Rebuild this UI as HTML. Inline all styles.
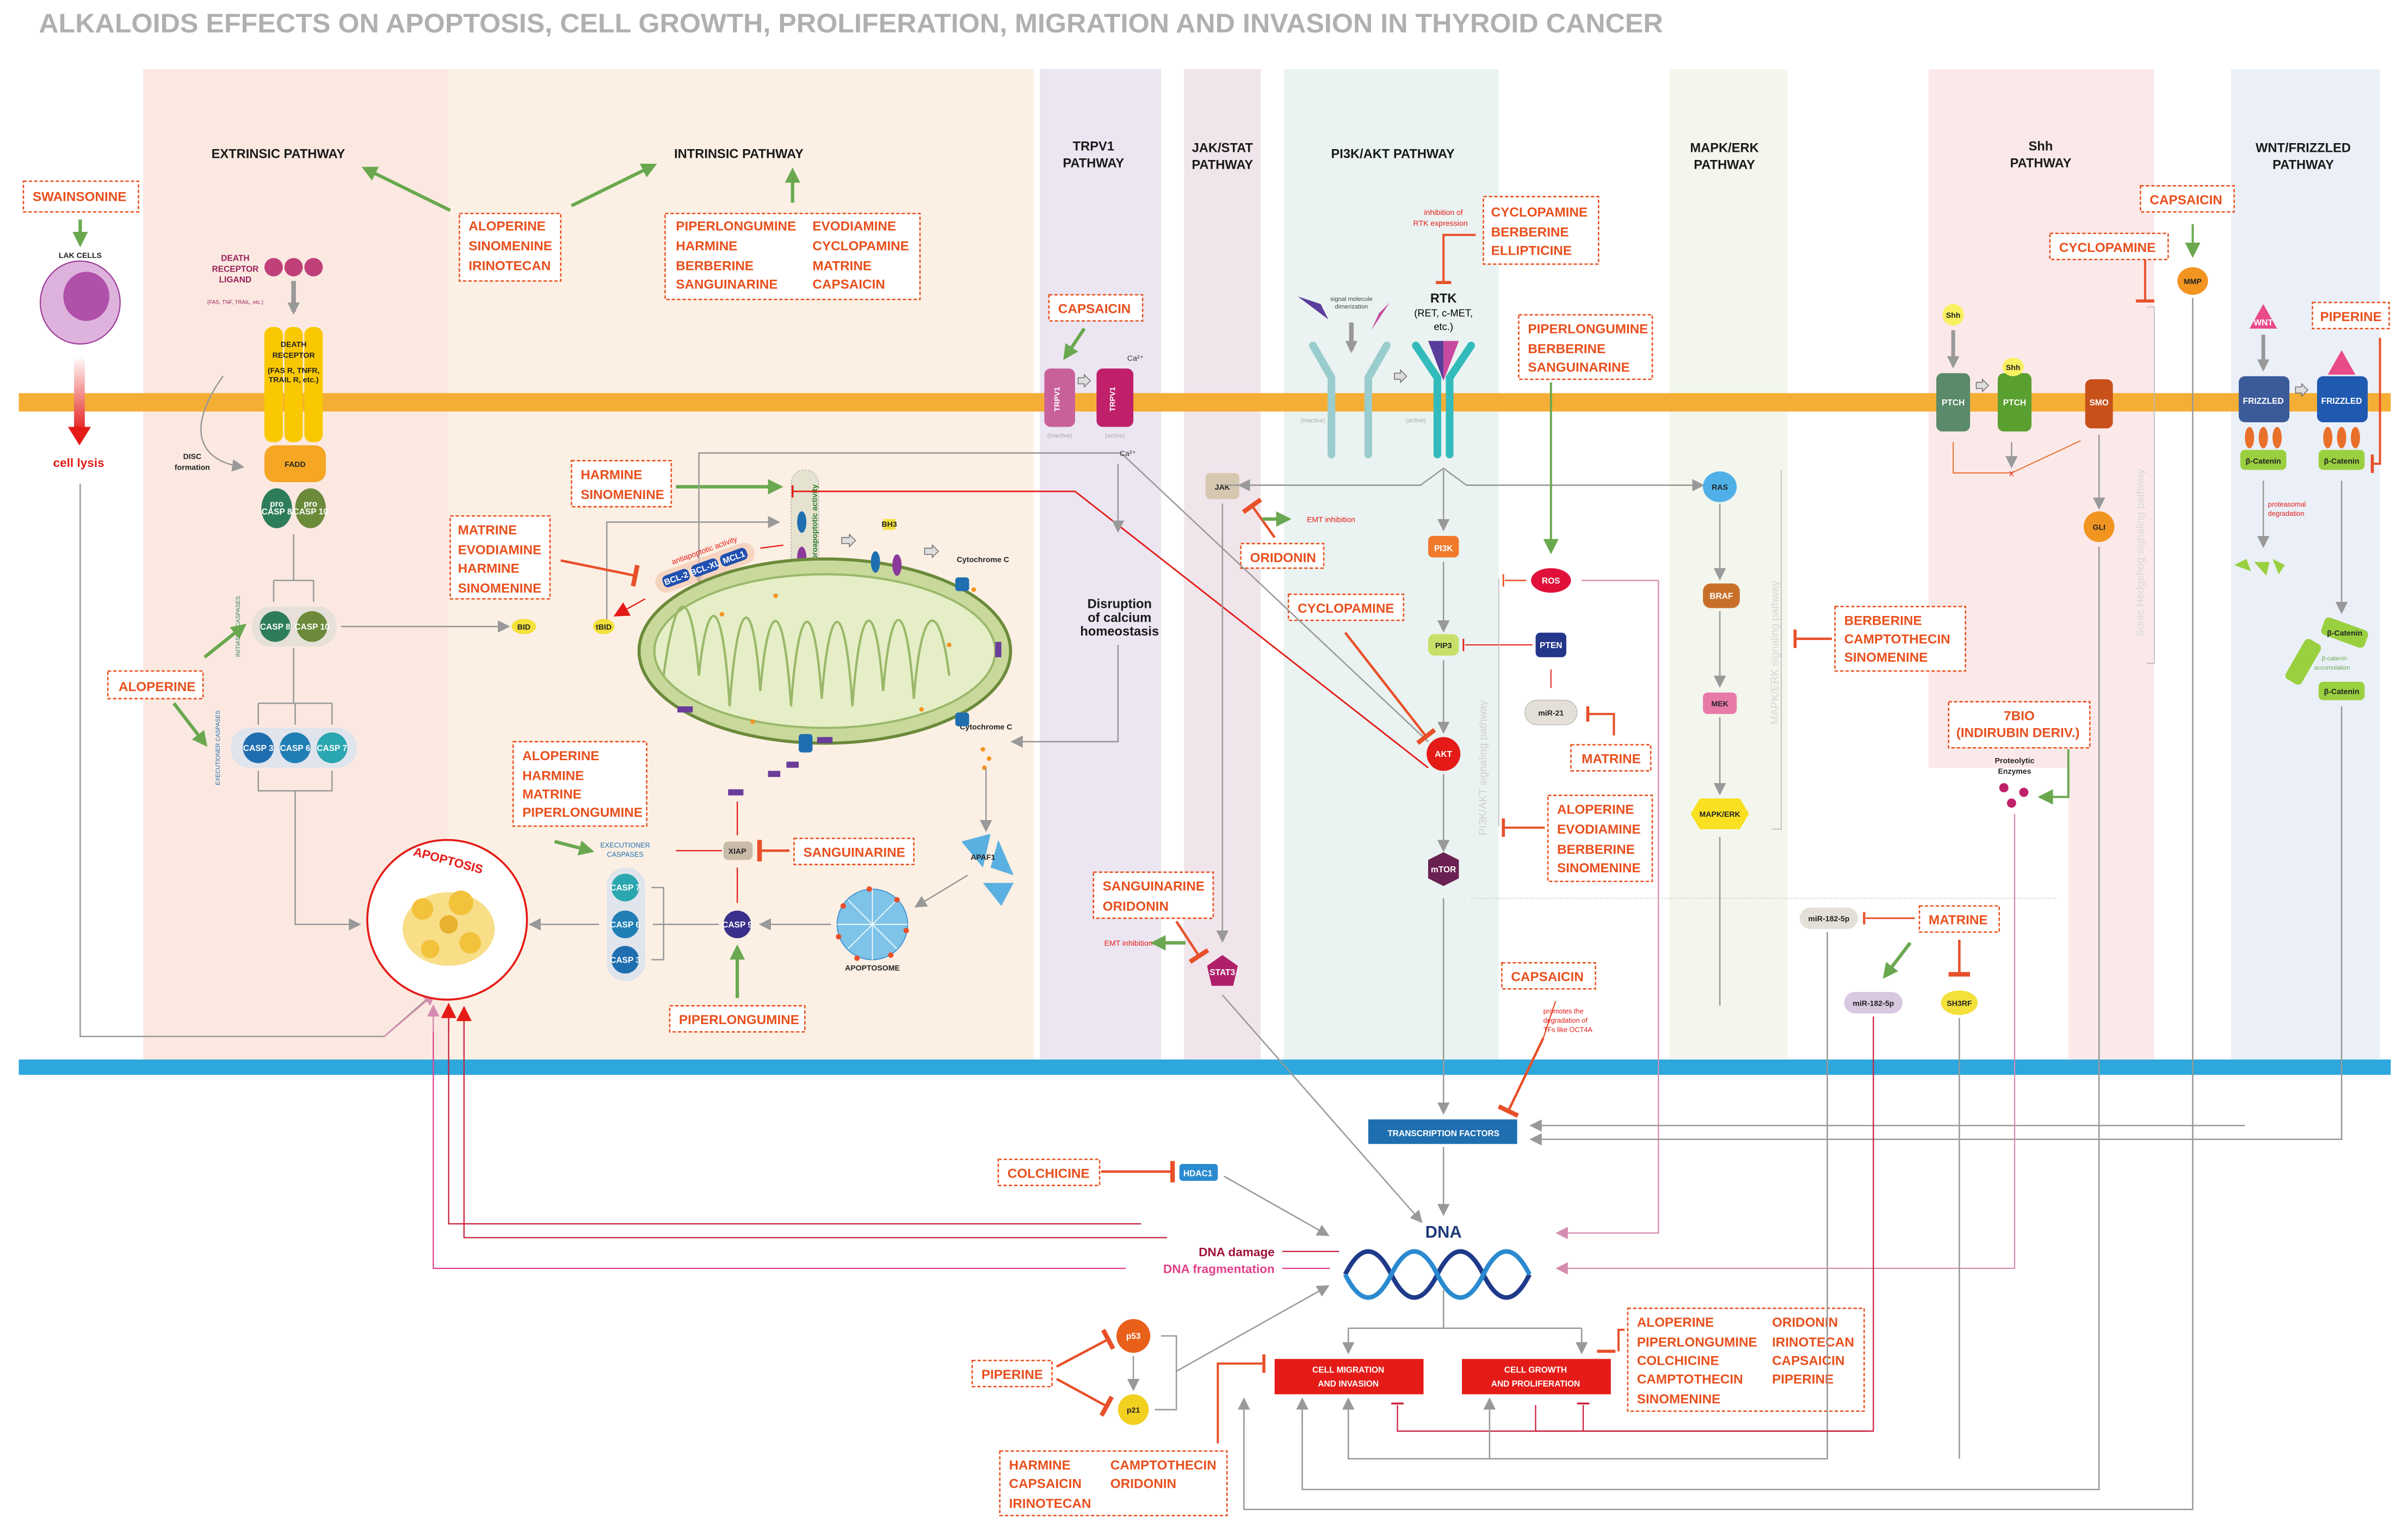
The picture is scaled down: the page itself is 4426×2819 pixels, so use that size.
<!DOCTYPE html>
<html><head><meta charset="utf-8"><style>
html,body{margin:0;padding:0;background:#fff}
svg{display:block}
text{font-family:"Liberation Sans Narrow","Liberation Sans",sans-serif}
.b{font-weight:bold;fill:#e8501e;font-size:8.6px}
.t{font-weight:bold;fill:#1a1a1a;font-size:8.4px;text-anchor:middle}
.bx{fill:#fff;stroke:#e8501e;stroke-width:0.9;stroke-dasharray:2.2,1.3}
.g{stroke:#999;stroke-width:0.9;fill:none}
.gr{stroke:#6aa84f;stroke-width:2.2;fill:none}
.rd{stroke:#e8502a;stroke-width:1.6;fill:none}
.w{fill:#fff;font-weight:bold;font-size:5.5px;text-anchor:middle}
.s{font-size:5px;fill:#222;text-anchor:middle;font-weight:bold}
</style></head><body>
<svg width="4426" height="2819" viewBox="0 0 1568 999" xmlns="http://www.w3.org/2000/svg">
<defs>
<marker id="ag" markerWidth="8" markerHeight="8" refX="6" refY="4" orient="auto" markerUnits="userSpaceOnUse"><path d="M0,0 L8,4 L0,8 z" fill="#999"/></marker>
<marker id="agr" markerWidth="10" markerHeight="10" refX="7" refY="5" orient="auto" markerUnits="userSpaceOnUse"><path d="M0,0 L10,5 L0,10 z" fill="#6aa84f"/></marker>
<marker id="ar" markerWidth="10" markerHeight="10" refX="7" refY="5" orient="auto" markerUnits="userSpaceOnUse"><path d="M0,0 L10,5 L0,10 z" fill="#e41b17"/></marker>
<marker id="ap" markerWidth="8" markerHeight="8" refX="6" refY="4" orient="auto" markerUnits="userSpaceOnUse"><path d="M0,0 L8,4 L0,8 z" fill="#d58bb0"/></marker>
<marker id="tb" markerWidth="4" markerHeight="14" refX="2" refY="7" orient="auto" markerUnits="userSpaceOnUse"><rect x="0" y="0" width="3" height="14" fill="#e8502a"/></marker>
<linearGradient id="lys" x1="0" y1="0" x2="0" y2="1"><stop offset="0" stop-color="#fff"/><stop offset="1" stop-color="#e41b17"/></linearGradient>
</defs>
<rect width="1568" height="999" fill="#fff"/>
<text x="25" y="21" font-size="17.5" font-weight="bold" fill="#b0b0b0" textLength="1058" lengthAdjust="spacingAndGlyphs">ALKALOIDS EFFECTS ON APOPTOSIS, CELL GROWTH, PROLIFERATION, MIGRATION AND INVASION IN THYROID CANCER</text>
<!-- column backgrounds -->
<rect x="93" y="45" width="199" height="645" fill="#fbe9e1"/>
<rect x="292" y="45" width="381" height="645" fill="#fcf0e4"/>
<rect x="677" y="45" width="79" height="645" fill="#ebe6f2"/>
<rect x="771" y="45" width="50" height="645" fill="#f1e5ec"/>
<rect x="836" y="45" width="140" height="645" fill="#eaf3f1"/>
<rect x="1087" y="45" width="77" height="645" fill="#f2f6ec"/>
<rect x="1256" y="45" width="147" height="455" fill="#fbe9ea"/>
<rect x="1347" y="500" width="56" height="190" fill="#fbe9ea"/>
<rect x="1453" y="45" width="97" height="645" fill="#ebf0f8"/>
<!-- membrane & bars -->
<rect x="12" y="256" width="1545" height="12" fill="#f5ae35"/>
<rect x="12" y="690" width="1545" height="10" fill="#2da7dc"/>
<!-- pathway titles -->
<text class="t" x="181" y="103">EXTRINSIC PATHWAY</text>
<text class="t" x="481" y="103">INTRINSIC PATHWAY</text>
<text class="t" x="712" y="98">TRPV1</text><text class="t" x="712" y="109">PATHWAY</text>
<text class="t" x="796" y="99">JAK/STAT</text><text class="t" x="796" y="110">PATHWAY</text>
<text class="t" x="907" y="103">PI3K/AKT PATHWAY</text>
<text class="t" x="1123" y="99">MAPK/ERK</text><text class="t" x="1123" y="110">PATHWAY</text>
<text class="t" x="1329" y="98">Shh</text><text class="t" x="1329" y="109">PATHWAY</text>
<text class="t" x="1500" y="99">WNT/FRIZZLED</text><text class="t" x="1500" y="110">PATHWAY</text>

<!-- green arrows top -->
<line class="gr" x1="293" y1="137" x2="238" y2="110" marker-end="url(#agr)"/>
<line class="gr" x1="372" y1="134" x2="425" y2="108" marker-end="url(#agr)"/>
<line class="gr" x1="516" y1="132" x2="516" y2="112" marker-end="url(#agr)"/>

<!-- drug boxes -->
<rect class="bx" x="15" y="118" width="75" height="20"/><text class="b" x="21" y="131">SWAINSONINE</text>
<rect class="bx" x="299" y="139" width="66" height="44"/><text class="b" x="305" y="150">ALOPERINE</text><text class="b" x="305" y="163">SINOMENINE</text><text class="b" x="305" y="176">IRINOTECAN</text>
<rect class="bx" x="433" y="139" width="166" height="56"/>
<text class="b" x="440" y="150">PIPERLONGUMINE</text><text class="b" x="440" y="163">HARMINE</text><text class="b" x="440" y="176">BERBERINE</text><text class="b" x="440" y="188">SANGUINARINE</text>
<text class="b" x="529" y="150">EVODIAMINE</text><text class="b" x="529" y="163">CYCLOPAMINE</text><text class="b" x="529" y="176">MATRINE</text><text class="b" x="529" y="188">CAPSAICIN</text>
<rect class="bx" x="683" y="192" width="61" height="17"/><text class="b" x="689" y="204">CAPSAICIN</text>
<rect class="bx" x="372" y="300" width="65" height="30"/><text class="b" x="378" y="312">HARMINE</text><text class="b" x="378" y="325">SINOMENINE</text>
<rect class="bx" x="293" y="336" width="65" height="54"/><text class="b" x="298" y="348">MATRINE</text><text class="b" x="298" y="361">EVODIAMINE</text><text class="b" x="298" y="373">HARMINE</text><text class="b" x="298" y="386">SINOMENINE</text>
<rect class="bx" x="70" y="437" width="62" height="18"/><text class="b" x="77" y="450">ALOPERINE</text>
<rect class="bx" x="334" y="483" width="87" height="55"/><text class="b" x="340" y="495">ALOPERINE</text><text class="b" x="340" y="508">HARMINE</text><text class="b" x="340" y="520">MATRINE</text><text class="b" x="340" y="532">PIPERLONGUMINE</text>
<rect class="bx" x="517" y="546" width="78" height="17"/><text class="b" x="523" y="558">SANGUINARINE</text>
<rect class="bx" x="436" y="655" width="88" height="17"/><text class="b" x="442" y="667">PIPERLONGUMINE</text>
<rect class="bx" x="808" y="354" width="54" height="16"/><text class="b" x="814" y="366">ORIDONIN</text>
<rect class="bx" x="839" y="387" width="75" height="17"/><text class="b" x="845" y="399">CYCLOPAMINE</text>
<rect class="bx" x="966" y="128" width="75" height="44"/><text class="b" x="971" y="141">CYCLOPAMINE</text><text class="b" x="971" y="154">BERBERINE</text><text class="b" x="971" y="166">ELLIPTICINE</text>
<rect class="bx" x="989" y="205" width="87" height="42"/><text class="b" x="995" y="217">PIPERLONGUMINE</text><text class="b" x="995" y="230">BERBERINE</text><text class="b" x="995" y="242">SANGUINARINE</text>
<rect class="bx" x="1195" y="395" width="85" height="42"/><text class="b" x="1201" y="407">BERBERINE</text><text class="b" x="1201" y="419">CAMPTOTHECIN</text><text class="b" x="1201" y="431">SINOMENINE</text>
<rect class="bx" x="1023" y="485" width="52" height="17"/><text class="b" x="1030" y="497">MATRINE</text>
<rect class="bx" x="1008" y="518" width="68" height="56"/><text class="b" x="1014" y="530">ALOPERINE</text><text class="b" x="1014" y="543">EVODIAMINE</text><text class="b" x="1014" y="556">BERBERINE</text><text class="b" x="1014" y="568">SINOMENINE</text>
<rect class="bx" x="978" y="627" width="61" height="17"/><text class="b" x="984" y="639">CAPSAICIN</text>
<rect class="bx" x="712" y="568" width="78" height="30"/><text class="b" x="718" y="580">SANGUINARINE</text><text class="b" x="718" y="593">ORIDONIN</text>
<rect class="bx" x="1394" y="121" width="61" height="17"/><text class="b" x="1400" y="133">CAPSAICIN</text>
<rect class="bx" x="1335" y="152" width="77" height="17"/><text class="b" x="1341" y="164">CYCLOPAMINE</text>
<rect class="bx" x="1506" y="197" width="50" height="17"/><text class="b" x="1511" y="209">PIPERINE</text>
<rect class="bx" x="1269" y="457" width="92" height="30"/><text class="b" x="1305" y="469">7BIO</text><text class="b" x="1274" y="480">(INDIRUBIN DERIV.)</text>
<rect class="bx" x="1250" y="590" width="52" height="17"/><text class="b" x="1256" y="602">MATRINE</text>
<rect class="bx" x="650" y="755" width="66" height="17"/><text class="b" x="656" y="767">COLCHICINE</text>
<rect class="bx" x="633" y="886" width="52" height="17"/><text class="b" x="639" y="898">PIPERINE</text>
<rect class="bx" x="651" y="945" width="148" height="42"/><text class="b" x="657" y="957">HARMINE</text><text class="b" x="657" y="969">CAPSAICIN</text><text class="b" x="657" y="982">IRINOTECAN</text><text class="b" x="723" y="957">CAMPTOTHECIN</text><text class="b" x="723" y="969">ORIDONIN</text>
<rect class="bx" x="1060" y="852" width="154" height="67"/>
<text class="b" x="1066" y="864">ALOPERINE</text><text class="b" x="1066" y="877">PIPERLONGUMINE</text><text class="b" x="1066" y="889">COLCHICINE</text><text class="b" x="1066" y="901">CAMPTOTHECIN</text><text class="b" x="1066" y="914">SINOMENINE</text>
<text class="b" x="1154" y="864">ORIDONIN</text><text class="b" x="1154" y="877">IRINOTECAN</text><text class="b" x="1154" y="889">CAPSAICIN</text><text class="b" x="1154" y="901">PIPERINE</text>

<!-- LAK cell -->
<line class="gr" x1="52" y1="143" x2="52" y2="158" marker-end="url(#agr)"/>
<text class="s" x="52" y="168" font-size="5.5">LAK CELLS</text>
<ellipse cx="52" cy="197" rx="26" ry="27" fill="#ddb3dd" stroke="#a0409a" stroke-width="0.8"/>
<ellipse cx="56" cy="193" rx="15" ry="16" fill="#b050a8"/>
<rect x="48" y="232" width="7" height="50" fill="url(#lys)"/>
<path d="M44,278 L59,278 L51.5,290 z" fill="#e41b17"/>
<text x="51" y="304" font-size="8" fill="#e41b17" text-anchor="middle" font-weight="bold">cell lysis</text>
<path class="g" d="M52,315 V675 H250 L282,647" stroke="#d8a0c8"/>
<line x1="250" y1="675" x2="282" y2="648" stroke="#d58bb0" stroke-width="0.9" marker-end="url(#ap)"/>

<!-- death receptor -->
<text x="153" y="170" font-size="5.5" fill="#9a1f5a" font-weight="bold" text-anchor="middle">DEATH</text>
<text x="153" y="177" font-size="5.5" fill="#9a1f5a" font-weight="bold" text-anchor="middle">RECEPTOR</text>
<text x="153" y="184" font-size="5.5" fill="#9a1f5a" font-weight="bold" text-anchor="middle">LIGAND</text>
<text x="153" y="198" font-size="3.5" fill="#9a1f5a" text-anchor="middle">(FAS, TNF, TRAIL, etc.)</text>
<circle cx="178" cy="174" r="6" fill="#c0407a"/><circle cx="191" cy="174" r="6" fill="#c0407a"/><circle cx="204" cy="174" r="6" fill="#c0407a"/>
<line x1="191" y1="183" x2="191" y2="203" stroke="#999" stroke-width="3" marker-end="url(#ag)"/>
<rect x="172" y="213" width="12" height="75" rx="5" fill="#f9c800"/><rect x="185" y="213" width="12" height="75" rx="5" fill="#f9c800"/><rect x="198" y="213" width="12" height="75" rx="5" fill="#f9c800"/>
<text class="s" x="191" y="226">DEATH</text><text class="s" x="191" y="233">RECEPTOR</text><text class="s" x="191" y="243" font-size="4">(FAS R, TNFR,</text><text class="s" x="191" y="249" font-size="4">TRAIL R, etc.)</text>
<rect x="172" y="290" width="40" height="24" rx="7" fill="#f5a623"/><text class="s" x="192" y="304" font-size="6">FADD</text>
<path class="g" d="M145,245 C120,280 130,300 157,304" marker-end="url(#ag)"/>
<text class="s" x="125" y="299" font-size="5.5">DISC</text><text class="s" x="125" y="306" font-size="5.5">formation</text>
<ellipse cx="180" cy="331" rx="10" ry="13" fill="#2e7d5a"/><ellipse cx="202" cy="331" rx="10" ry="13" fill="#6b8a3a"/>
<text class="w" x="180" y="330" font-size="4.5">pro</text><text class="w" x="180" y="335" font-size="4">CASP 8</text>
<text class="w" x="202" y="330" font-size="4.5">pro</text><text class="w" x="202" y="335" font-size="4">CASP 10</text>
<path class="g" d="M191,348 V378 M178,378 H204 M178,378 V392 M204,378 V392"/>
<rect x="164" y="395" width="55" height="26" rx="12" fill="#e6e0d8"/>
<circle cx="179" cy="408" r="10" fill="#2e7d5a"/><circle cx="203" cy="408" r="10" fill="#6b8a3a"/>
<text class="w" x="179" y="410" font-size="4.5">CASP 8</text><text class="w" x="203" y="410" font-size="4.5">CASP 10</text>
<text x="156" y="408" font-size="3.8" fill="#2e7d5a" transform="rotate(-90 156 408)" text-anchor="middle">INITIATOR CASPASES</text>
<line class="g" x1="222" y1="408" x2="330" y2="408" marker-end="url(#ag)"/>
<path class="g" d="M191,422 V458 M168,458 H216 M168,458 V472 M192,458 V472 M216,458 V472"/>
<rect x="150" y="474" width="82" height="26" rx="12" fill="#e0e4ec"/>
<circle cx="168" cy="487" r="10" fill="#1f6fb0"/><circle cx="192" cy="487" r="10" fill="#1f7fb5"/><circle cx="216" cy="487" r="10" fill="#2aa7b0"/>
<text class="w" x="168" y="489" font-size="4.5">CASP 3</text><text class="w" x="192" y="489" font-size="4.5">CASP 6</text><text class="w" x="216" y="489" font-size="4.5">CASP 7</text>
<text x="143" y="487" font-size="3.8" fill="#1f6fb0" transform="rotate(-90 143 487)" text-anchor="middle">EXECUTIONER CASPASES</text>
<line class="gr" x1="133" y1="428" x2="158" y2="408" marker-end="url(#agr)"/>
<line class="gr" x1="113" y1="458" x2="133" y2="484" marker-end="url(#agr)"/>
<path class="g" d="M168,502 V515 H216 V502 M192,515 V602 H233" marker-end="url(#ag)"/>

<!-- apoptosis -->
<circle cx="291" cy="599" r="52" fill="#fff" stroke="#e41b17" stroke-width="1.3"/>
<text x="291" y="563" font-size="8" font-weight="bold" fill="#e41b17" text-anchor="middle" transform="rotate(15 291 563)">APOPTOSIS</text>
<ellipse cx="292" cy="605" rx="30" ry="24" fill="#f7d66a" opacity="0.8"/>
<circle cx="275" cy="592" r="7" fill="#f2c23b"/><circle cx="300" cy="588" r="8" fill="#f2c23b"/><circle cx="306" cy="614" r="7" fill="#f2c23b"/><circle cx="280" cy="618" r="6" fill="#f2c23b"/><circle cx="292" cy="602" r="6" fill="#e8b230"/>

<!-- intrinsic: BAX column & mitochondria -->
<line class="gr" x1="440" y1="317" x2="507" y2="317" marker-end="url(#agr)"/>
<rect x="515" y="306" width="18" height="70" rx="9" fill="#e5e2d0" stroke="#aaa" stroke-width="0.5" stroke-dasharray="1,1"/>
<text x="532" y="340" font-size="5" fill="#2e7d32" transform="rotate(-90 532 340)" text-anchor="middle" font-weight="bold">proapoptotic activity</text>
<ellipse cx="522" cy="340" rx="3" ry="7" fill="#1f6fb0"/><ellipse cx="522" cy="363" rx="3" ry="7" fill="#8a3a9a"/>
<path class="g" d="M395,408 V340 H506" marker-end="url(#ag)"/>
<path class="g" d="M455,388 V295 H730 L930,483"/>
<line class="g" x1="455" y1="370" x2="455" y2="378" marker-end="url(#ag)"/>
<path d="M516,320 H700 L930,500" stroke="#e41b17" stroke-width="1" fill="none"/>
<line x1="516" y1="316" x2="516" y2="324" stroke="#e41b17" stroke-width="1.2"/>
<ellipse cx="537" cy="424" rx="121" ry="60" fill="#c8d99b" stroke="#6b8a3a" stroke-width="2"/>
<ellipse cx="537" cy="424" rx="111" ry="50" fill="#e6eec8" stroke="#9ab86a" stroke-width="1.4"/>
<path d="M432,440 C440,380 450,380 455,440 C460,390 470,380 475,460 C480,390 490,380 495,450 C500,390 510,385 515,460 C520,390 530,385 535,455 C540,390 550,385 555,460 C560,390 570,385 575,450 C580,390 590,385 595,455 C600,390 612,390 618,440" fill="none" stroke="#9ab86a" stroke-width="1.5"/>
<g transform="rotate(-20 458 370)"><rect x="425" y="363" width="68" height="14" rx="7" fill="#f4c8b0" opacity="0.7"/><text x="440" y="361" font-size="5" fill="#e41b17">antiapoptotic activity</text>
<rect x="430" y="366" width="18" height="8" rx="3" fill="#2050b0"/><rect x="450" y="366" width="18" height="8" rx="3" fill="#2050b0"/><rect x="470" y="366" width="18" height="8" rx="3" fill="#2050b0"/>
<text class="w" x="439" y="372" font-size="4">BCL-2</text><text class="w" x="459" y="372" font-size="4">BCL-XL</text><text class="w" x="479" y="372" font-size="4">MCL1</text></g>
<line class="rd" x1="365" y1="365" x2="414" y2="375" marker-end="url(#tb)"/>
<line x1="495" y1="357" x2="510" y2="355" stroke="#e41b17" stroke-width="0.8"/>
<line x1="420" y1="390" x2="402" y2="400" stroke="#e41b17" stroke-width="0.8" marker-end="url(#ar)"/>
<ellipse cx="341" cy="408" rx="8" ry="5" fill="#f4e03a"/><text class="s" x="341" y="410" font-size="4">BID</text>
<ellipse cx="393" cy="408" rx="7" ry="5" fill="#f4e03a"/><text class="s" x="393" y="410" font-size="4">tBID</text>
<rect x="575" y="338" width="8" height="7" fill="#f4e03a"/><text class="s" x="579" y="343" font-size="2.5">BH3</text>
<ellipse cx="570" cy="366" rx="3" ry="7" fill="#1f6fb0"/><ellipse cx="584" cy="368" rx="3" ry="7" fill="#8a3a9a"/>
<path d="M548,350 h5 v-2 l4,4 l-4,4 v-2 h-5z M602,357 h5 v-2 l4,4 l-4,4 v-2 h-5z" fill="#ddd" stroke="#666" stroke-width="0.5"/>
<text class="s" x="640" y="366" font-size="4">Cytochrome C</text>
<text class="s" x="642" y="475" font-size="4">Cytochrome C</text>
<g fill="#f29520"><circle cx="628" cy="380" r="1.5"/><circle cx="634" cy="384" r="1.5"/><circle cx="640" cy="488" r="1.5"/><circle cx="644" cy="494" r="1.5"/><circle cx="641" cy="500" r="1.5"/><circle cx="470" cy="400" r="1.5"/><circle cx="490" cy="470" r="1.5"/><circle cx="600" cy="462" r="1.5"/><circle cx="618" cy="420" r="1.5"/><circle cx="505" cy="388" r="1.5"/></g>
<rect x="622" y="376" width="9" height="9" rx="2" fill="#1f6fb0"/><rect x="622" y="464" width="9" height="9" rx="2" fill="#1f6fb0"/><rect x="520" y="478" width="9" height="12" rx="2" fill="#1f6fb0"/>
<g fill="#6a3d9a"><rect x="532" y="480" width="10" height="4"/><rect x="441" y="460" width="10" height="4"/><rect x="474" y="514" width="10" height="4"/><rect x="500" y="502" width="8" height="4"/><rect x="512" y="496" width="8" height="4"/><rect x="648" y="418" width="4" height="10"/></g>
<path class="g" d="M642,500 V540" marker-end="url(#ag)"/>
<path d="M626,548 L645,543 L640,565z M650,547 L660,570 L645,565z M640,575 L660,575 L652,590z" fill="#5ab0e0"/>
<text class="s" x="640" y="560" font-size="3.5">APAF1</text>
<line class="g" x1="630" y1="570" x2="597" y2="590" marker-end="url(#ag)"/>
<circle cx="568" cy="602" r="23" fill="#7ec3e8" stroke="#3a8fcf" stroke-width="0.6"/>
<g stroke="#fff" stroke-width="0.6"><line x1="545" y1="602" x2="591" y2="602"/><line x1="568" y1="579" x2="568" y2="625"/><line x1="552" y1="586" x2="584" y2="618"/><line x1="552" y1="618" x2="584" y2="586"/></g>
<g fill="#e8502a"><circle cx="549" cy="590" r="1.8"/><circle cx="566" cy="579" r="1.8"/><circle cx="584" cy="586" r="1.8"/><circle cx="590" cy="606" r="1.8"/><circle cx="580" cy="622" r="1.8"/><circle cx="558" cy="624" r="1.8"/><circle cx="546" cy="610" r="1.8"/></g>
<text class="s" x="568" y="632" font-size="4.5">APOPTOSOME</text>
<line class="g" x1="541" y1="602" x2="496" y2="602" marker-end="url(#ag)"/>
<circle cx="480" cy="602" r="9" fill="#3a2f8a"/><text class="w" x="480" y="604" font-size="4.5">CASP 9</text>
<line class="gr" x1="480" y1="650" x2="480" y2="618" marker-end="url(#agr)"/>
<rect x="471" y="548" width="19" height="12" rx="3" fill="#c8bca8"/><text class="s" x="480" y="556" font-size="4.5">XIAP</text>
<line x1="480" y1="522" x2="480" y2="544" stroke="#e41b17" stroke-width="0.8"/>
<line x1="480" y1="565" x2="480" y2="588" stroke="#e41b17" stroke-width="0.8"/>
<line class="rd" x1="514" y1="554" x2="494" y2="554" marker-end="url(#tb)"/>
<line x1="470" y1="554" x2="440" y2="554" stroke="#e41b17" stroke-width="0.8"/>
<line class="gr" x1="361" y1="548" x2="384" y2="554" marker-end="url(#agr)"/>
<text x="407" y="552" font-size="4.5" fill="#1f6fb0" text-anchor="middle">EXECUTIONER</text><text x="407" y="558" font-size="4.5" fill="#1f6fb0" text-anchor="middle">CASPASES</text>
<rect x="395" y="565" width="25" height="74" rx="12" fill="#e0e4ec"/>
<circle cx="407" cy="578" r="9" fill="#2aa7b0"/><circle cx="407" cy="602" r="9" fill="#1f7fb5"/><circle cx="407" cy="625" r="9" fill="#1f6fb0"/>
<text class="w" x="407" y="580" font-size="4.5">CASP 7</text><text class="w" x="407" y="604" font-size="4.5">CASP 6</text><text class="w" x="407" y="627" font-size="4.5">CASP 3</text>
<path class="g" d="M468,602 H425 M432,578 V625 M432,578 H424 M432,625 H424 M390,602 H346" marker-end="url(#ag)"/>

<!-- TRPV1 -->
<line class="gr" x1="706" y1="214" x2="694" y2="232" marker-end="url(#agr)"/>
<rect x="680" y="240" width="20" height="38" rx="4" fill="#c8609a"/><text x="690" y="260" font-size="5" fill="#fff" font-weight="bold" transform="rotate(-90 690 260)" text-anchor="middle">TRPV1</text>
<rect x="714" y="240" width="24" height="38" rx="4" fill="#c0206a"/><text x="726" y="260" font-size="5" fill="#fff" font-weight="bold" transform="rotate(-90 726 260)" text-anchor="middle">TRPV1</text>
<path d="M702,246 h4 v-2 l4,4 l-4,4 v-2 h-4z" fill="#ddd" stroke="#666" stroke-width="0.5"/>
<text x="690" y="285" font-size="4" fill="#aaa" text-anchor="middle">(inactive)</text><text x="726" y="285" font-size="4" fill="#aaa" text-anchor="middle">(active)</text>
<text x="734" y="235" font-size="5" fill="#333">Ca²⁺</text><text x="729" y="297" font-size="5" fill="#333">Ca²⁺</text>
<path class="g" d="M728,302 V345" marker-end="url(#ag)"/>
<text class="t" x="729" y="396" font-size="7" font-weight="normal" style="font-weight:bold">Disruption</text><text class="t" x="729" y="405" font-size="7">of calcium</text><text class="t" x="729" y="414" font-size="7">homeostasis</text>
<path class="g" d="M728,420 V483 H660" marker-end="url(#ag)"/>

<!-- JAK/STAT -->
<rect x="785" y="308" width="22" height="17" rx="3" fill="#d6c8b0"/><text class="s" x="796" y="319" font-size="5.5">JAK</text>
<line class="g" x1="796" y1="328" x2="796" y2="612" marker-end="url(#ag)"/>
<line class="rd" x1="830" y1="350" x2="815" y2="329" marker-end="url(#tb)"/>
<line class="gr" x1="822" y1="338" x2="838" y2="338" stroke-width="1.5" marker-end="url(#agr)"/>
<text x="851" y="340" font-size="5" fill="#e41b17">EMT inhibition</text>
<path d="M796,622 L806,629 L803,642 L789,642 L786,629z" fill="#b0206a"/><text class="w" x="796" y="635">STAT3</text>
<line class="rd" x1="766" y1="600" x2="781" y2="623" marker-end="url(#tb)"/>
<line class="gr" x1="772" y1="614" x2="752" y2="614" stroke-width="1.5" marker-end="url(#agr)"/>
<text x="719" y="616" font-size="5" fill="#e41b17">EMT inhibition</text>
<line class="g" x1="796" y1="648" x2="925" y2="795" marker-end="url(#ag)"/>

<!-- PI3K/AKT -->
<text x="940" y="140" font-size="5" fill="#e41b17" text-anchor="middle">inhibition of</text><text x="938" y="147" font-size="5" fill="#e41b17" text-anchor="middle">RTK expression</text>
<path d="M961,153 H940 V183" stroke="#e8502a" stroke-width="1.4" fill="none"/><line x1="935" y1="184" x2="945" y2="184" stroke="#e8502a" stroke-width="2"/>
<text class="t" x="940" y="197" font-size="7">RTK</text><text x="940" y="206" font-size="6.5" text-anchor="middle">(RET, c-MET,</text><text x="940" y="215" font-size="6.5" text-anchor="middle">etc.)</text>
<path d="M845,193 L860,198 L865,208 z" fill="#5a3d9a"/><path d="M905,197 L893,215 L898,204z" fill="#c84aa0"/>
<text x="880" y="196" font-size="4" fill="#444" text-anchor="middle">signal molecule</text><text x="880" y="201" font-size="4" fill="#444" text-anchor="middle">dimerization</text>
<line x1="880" y1="210" x2="880" y2="228" stroke="#999" stroke-width="3" marker-end="url(#ag)"/>
<path d="M855,225 L867,246 V296 M903,225 L891,246 V296" stroke="#9cc" stroke-width="5" fill="none" stroke-linecap="round"/>
<path d="M922,225 L936,246 V296 M958,225 L944,246 V296" stroke="#3bb" stroke-width="5" fill="none" stroke-linecap="round"/>
<path d="M930,222 L940,222 L940,248z" fill="#5a3d9a"/><path d="M940,222 L950,222 L940,248z" fill="#c84aa0"/>
<path d="M908,243 h4 v-2 l4,4 l-4,4 v-2 h-4z" fill="#ddd" stroke="#666" stroke-width="0.5"/>
<text x="855" y="275" font-size="4" fill="#aaa" text-anchor="middle">(inactive)</text><text x="922" y="275" font-size="4" fill="#aaa" text-anchor="middle">(active)</text>
<path class="g" d="M796,316 H925 L940,305 L955,316 H1108" />
<line class="g" x1="925" y1="316" x2="808" y2="316" marker-end="url(#ag)"/><line class="g" x1="1090" y1="316" x2="1108" y2="316" marker-end="url(#ag)"/>
<line class="g" x1="940" y1="306" x2="940" y2="344" marker-end="url(#ag)"/>
<rect x="930" y="349" width="20" height="14" rx="3" fill="#f07a2a"/><text class="w" x="940" y="359">PI3K</text>
<line class="g" x1="940" y1="366" x2="940" y2="410" marker-end="url(#ag)"/>
<rect x="930" y="413" width="20" height="14" rx="4" fill="#c8e06a"/><text class="s" x="940" y="422" font-size="5.5">PIP3</text>
<line class="g" x1="940" y1="430" x2="940" y2="476" marker-end="url(#ag)"/>
<circle cx="940" cy="491" r="11" fill="#e41b17"/><text class="w" x="940" y="493">AKT</text>
<line class="g" x1="940" y1="504" x2="940" y2="553" marker-end="url(#ag)"/>
<path d="M940,555 L950,560 V572 L940,577 L930,572 V560z" fill="#6a2050"/><text class="w" x="940" y="568">mTOR</text>
<line class="g" x1="940" y1="585" x2="940" y2="724" marker-end="url(#ag)"/>
<line class="rd" x1="876" y1="412" x2="929" y2="480" marker-end="url(#tb)"/>
<line x1="1010" y1="249" x2="1010" y2="358" stroke="#6aa84f" stroke-width="1.4" marker-end="url(#agr)"/>
<ellipse cx="1010" cy="378" rx="13" ry="8" fill="#e0103a"/><text class="w" x="1010" y="380">ROS</text>
<line x1="1030" y1="378" x2="1080" y2="378" stroke="#d58bb0" stroke-width="0.8"/>
<path d="M1080,378 V803 H1015" stroke="#d58bb0" stroke-width="0.8" fill="none" marker-end="url(#ap)"/>
<line x1="994" y1="378" x2="980" y2="378" stroke="#e8502a" stroke-width="0.9"/><line x1="979" y1="374" x2="979" y2="382" stroke="#e8502a" stroke-width="1"/>
<rect x="1000" y="412" width="20" height="16" rx="3" fill="#23368a"/><text class="w" x="1010" y="422">PTEN</text>
<line x1="998" y1="420" x2="954" y2="420" stroke="#e41b17" stroke-width="0.7"/><line x1="953" y1="416" x2="953" y2="424" stroke="#e41b17" stroke-width="1"/>
<line x1="1010" y1="436" x2="1010" y2="448" stroke="#e41b17" stroke-width="0.7"/>
<rect x="993" y="456" width="34" height="16" rx="8" fill="#e4e0d8" stroke="#bbb" stroke-width="0.5"/><text class="s" x="1010" y="466" font-size="5.5">miR-21</text>
<path d="M1051,479 V465 H1034" stroke="#e8502a" stroke-width="1.4" fill="none"/><line x1="1034" y1="460" x2="1034" y2="470" stroke="#e8502a" stroke-width="2"/>
<path d="M1006,539 H980" stroke="#e8502a" stroke-width="1.4"/><line x1="979" y1="533" x2="979" y2="545" stroke="#e8502a" stroke-width="2"/>
<path d="M976,377 V538" stroke="#bbb" stroke-width="0.6" fill="none"/>
<text x="968" y="500" font-size="7" fill="#d0d0d0" transform="rotate(-90 968 500)" text-anchor="middle">PI3K/AKT signaling pathway</text>
<path d="M958,585 H1340" stroke="#ccc" stroke-width="0.6" stroke-dasharray="1,1"/>
<path d="M1013,652 L1005,676" stroke="#e8502a" stroke-width="0.8"/>
<text x="1005" y="660" font-size="4.5" fill="#e41b17">promotes the</text><text x="1005" y="666" font-size="4.5" fill="#e41b17">degradation of</text><text x="1005" y="672" font-size="4.5" fill="#e41b17">TFs like OCT4A</text>
<line class="rd" x1="1005" y1="676" x2="982" y2="724" marker-end="url(#tb)"/>

<!-- MAPK -->
<ellipse cx="1120" cy="317" rx="11" ry="10" fill="#4fb0e8"/><text class="s" x="1120" y="319" font-size="5">RAS</text>
<line class="g" x1="1120" y1="328" x2="1120" y2="376" marker-end="url(#ag)"/>
<rect x="1109" y="380" width="24" height="16" rx="5" fill="#c8702a"/><text class="w" x="1121" y="390">BRAF</text>
<line class="g" x1="1120" y1="398" x2="1120" y2="446" marker-end="url(#ag)"/>
<rect x="1109" y="451" width="22" height="14" rx="3" fill="#e87aa8"/><text class="s" x="1120" y="460" font-size="5">MEK</text>
<line class="g" x1="1120" y1="467" x2="1120" y2="516" marker-end="url(#ag)"/>
<path d="M1107,520 H1133 L1139,530 L1133,540 H1107 L1101,530z" fill="#f9e020"/><text class="s" x="1120" y="532" font-size="5">MAPK/ERK</text>
<path class="g" d="M1120,545 V655" stroke="#999"/>
<path d="M1160,306 V540 H1154" stroke="#bbb" stroke-width="0.6" fill="none"/>
<text x="1158" y="425" font-size="7" fill="#d8d8d8" transform="rotate(-90 1158 425)" text-anchor="middle">MAPK/ERK signaling pathway</text>
<line class="rd" x1="1193" y1="416" x2="1170" y2="416"/><line x1="1169" y1="410" x2="1169" y2="422" stroke="#e8502a" stroke-width="2"/>

<!-- Shh -->
<ellipse cx="1272" cy="205" rx="7" ry="7" fill="#f9f060"/><text class="s" x="1272" y="207" font-size="4.5">Shh</text>
<line x1="1272" y1="215" x2="1272" y2="238" stroke="#999" stroke-width="2.5" marker-end="url(#ag)"/>
<rect x="1261" y="243" width="22" height="38" rx="4" fill="#5a8a6a"/><text class="w" x="1272" y="264">PTCH</text>
<rect x="1301" y="243" width="22" height="38" rx="4" fill="#5aa030"/><text class="w" x="1312" y="264">PTCH</text>
<ellipse cx="1311" cy="239" rx="7" ry="6" fill="#f9f060"/><text class="s" x="1311" y="241" font-size="4.5">Shh</text>
<path d="M1287,249 h4 v-2 l4,4 l-4,4 v-2 h-4z" fill="#ddd" stroke="#666" stroke-width="0.5"/>
<rect x="1358" y="247" width="18" height="32" rx="4" fill="#c8501a"/><text class="w" x="1367" y="264">SMO</text>
<path d="M1272,288 V308 H1310 L1355,287" stroke="#e8702a" stroke-width="0.7" fill="none"/>
<text x="1310" y="310" font-size="6" fill="#e41b17" text-anchor="middle">x</text>
<line class="g" x1="1310" y1="288" x2="1310" y2="303" marker-end="url(#ag)"/>
<line class="g" x1="1367" y1="283" x2="1367" y2="330" marker-end="url(#ag)"/>
<circle cx="1367" cy="343" r="10" fill="#f29520"/><text class="s" x="1367" y="345" font-size="5">GLI</text>
<path class="g" d="M1367,356 V970 H848 V915"/>
<line class="g" x1="848" y1="925" x2="848" y2="912" marker-end="url(#ag)"/>
<path d="M1397,169 V195" stroke="#e8502a" stroke-width="1.4"/><line x1="1391" y1="196" x2="1403" y2="196" stroke="#e8502a" stroke-width="2"/>
<path d="M1398,200 H1403 V432 H1398" stroke="#bbb" stroke-width="0.6" fill="none"/>
<text x="1396" y="360" font-size="7" fill="#d8d8d8" transform="rotate(-90 1396 360)" text-anchor="middle">Sonic Hedgehog signaling pathway</text>
<line x1="1428" y1="146" x2="1428" y2="165" stroke="#6aa84f" stroke-width="1.4" marker-end="url(#agr)"/>
<ellipse cx="1428" cy="183" rx="10" ry="9" fill="#f29520"/><text class="s" x="1428" y="185" font-size="5">MMP</text>
<path class="g" d="M1428,194 V983 H810 V915"/>
<line class="g" x1="810" y1="925" x2="810" y2="912" marker-end="url(#ag)"/>
<!-- WNT -->
<path d="M1474,198 L1483,214 L1465,214z" fill="#e84a8a"/><text class="w" x="1474" y="212" font-size="4.5">WNT</text>
<line x1="1474" y1="218" x2="1474" y2="240" stroke="#999" stroke-width="2.5" marker-end="url(#ag)"/>
<rect x="1458" y="245" width="33" height="30" rx="4" fill="#3a5a9a"/><text class="w" x="1474" y="263">FRIZZLED</text>
<rect x="1509" y="245" width="33" height="30" rx="4" fill="#1f5ab0"/><text class="w" x="1525" y="263">FRIZZLED</text>
<path d="M1525,228 L1534,244 L1516,244z" fill="#e84a8a"/>
<path d="M1495,252 h4 v-2 l4,4 l-4,4 v-2 h-4z" fill="#ddd" stroke="#666" stroke-width="0.5"/>
<g fill="#e8702a"><ellipse cx="1465" cy="285" rx="3" ry="7"/><ellipse cx="1474" cy="285" rx="3" ry="7"/><ellipse cx="1483" cy="285" rx="3" ry="7"/><ellipse cx="1516" cy="285" rx="3" ry="7"/><ellipse cx="1525" cy="285" rx="3" ry="7"/><ellipse cx="1534" cy="285" rx="3" ry="7"/></g>
<rect x="1459" y="293" width="30" height="13" rx="3" fill="#9ad040"/><text class="s" x="1474" y="302" font-size="5">β-Catenin</text>
<rect x="1510" y="293" width="30" height="13" rx="3" fill="#9ad040"/><text class="s" x="1525" y="302" font-size="5">β-Catenin</text>
<path d="M1550,220 V302 H1546" stroke="#e8502a" stroke-width="1.4" fill="none"/><line x1="1545" y1="296" x2="1545" y2="308" stroke="#e8502a" stroke-width="2"/>
<line class="g" x1="1474" y1="313" x2="1474" y2="355" marker-end="url(#ag)"/>
<text x="1477" y="330" font-size="4.5" fill="#e41b17">proteasomal</text><text x="1477" y="336" font-size="4.5" fill="#e41b17">degradation</text>
<path d="M1455,368 l8,-4 l3,8 z M1468,366 l10,0 l-2,9 z M1480,364 l8,4 l-4,6z" fill="#9ad040"/>
<line class="g" x1="1525" y1="313" x2="1525" y2="398" marker-end="url(#ag)"/>
<g fill="#9ad040"><rect x="1512" y="406" width="30" height="12" rx="3" transform="rotate(20 1527 412)"/><rect x="1485" y="425" width="30" height="12" rx="3" transform="rotate(-60 1500 431)"/><rect x="1510" y="444" width="30" height="12" rx="3"/></g>
<text class="s" x="1527" y="414" font-size="4.5">β-Catenin</text><text class="s" x="1525" y="452" font-size="4.5">β-Catenin</text>
<text x="1512" y="430" font-size="4" fill="#6aa84f">β-catenin</text><text x="1507" y="436" font-size="4" fill="#6aa84f">accumulation</text>
<path class="g" d="M1525,460 V742 H998" marker-end="url(#ag)"/>
<path class="g" d="M1462,733 H998" marker-end="url(#ag)"/>
<!-- Proteolytic -->
<text class="s" x="1312" y="497" font-size="5.5">Proteolytic</text><text class="s" x="1312" y="504" font-size="5.5">Enzymes</text>
<g fill="#c0206a"><circle cx="1305" cy="513" r="3"/><circle cx="1318" cy="516" r="3"/><circle cx="1310" cy="523" r="3"/></g>
<path d="M1347,488 V519 H1330" stroke="#6aa84f" stroke-width="1.4" fill="none" marker-end="url(#agr)"/>
<path d="M1312,530 V826 H1015" stroke="#d58bb0" stroke-width="0.8" fill="none" marker-end="url(#ap)"/>
<rect x="1172" y="591" width="38" height="14" rx="7" fill="#e4e0d8"/><text class="s" x="1191" y="600" font-size="5.5">miR-182-5p</text>
<line x1="1247" y1="598" x2="1215" y2="598" stroke="#e8502a" stroke-width="1"/><line x1="1214" y1="594" x2="1214" y2="602" stroke="#e8502a" stroke-width="1.5"/>
<line class="gr" x1="1244" y1="614" x2="1228" y2="635" marker-end="url(#agr)"/>
<line class="rd" x1="1276" y1="612" x2="1276" y2="635" marker-end="url(#tb)"/>
<rect x="1201" y="646" width="38" height="14" rx="7" fill="#d8c8e0"/><text class="s" x="1220" y="655" font-size="5.5">miR-182-5p</text>
<ellipse cx="1276" cy="653" rx="12" ry="8" fill="#f4e03a"/><text class="s" x="1276" y="655" font-size="5">SH3RF</text>
<path class="g" d="M1190,607 V950 H878 V915"/><line class="g" x1="878" y1="925" x2="878" y2="912" marker-end="url(#ag)"/>
<path d="M1220,662 V932 H1000 V915" stroke="#c8203a" stroke-width="0.8" fill="none"/>
<path class="g" d="M1276,663 V950"/>
<path d="M1216,932 H910 V915" stroke="#c8203a" stroke-width="0.8" fill="none"/><line x1="906" y1="914" x2="914" y2="914" stroke="#c8203a" stroke-width="1.2"/>
<line x1="1027" y1="914" x2="1035" y2="914" stroke="#c8203a" stroke-width="1.2"/><path d="M1031,932 V915" stroke="#c8203a" stroke-width="0.8"/>
<path class="g" d="M970,950 V912" marker-end="url(#ag)"/>

<!-- nucleus area -->
<rect x="891" y="729" width="97" height="16" fill="#1f6fb0"/><text class="w" x="940" y="740" font-size="5.5">TRANSCRIPTION FACTORS</text>
<line class="g" x1="940" y1="747" x2="940" y2="790" marker-end="url(#ag)"/>
<rect x="768" y="758" width="25" height="11" rx="2" fill="#2a8ad0"/><text class="w" x="780" y="766" font-size="5">HDAC1</text>
<line class="rd" x1="717" y1="763" x2="764" y2="763" marker-end="url(#tb)"/>
<line class="g" x1="797" y1="766" x2="864" y2="804" marker-end="url(#ag)"/>
<text x="940" y="806" font-size="11" font-weight="bold" fill="#1f3a7a" text-anchor="middle">DNA</text>
<path d="M876,830 C886,810 896,810 906,830 S926,850 936,830 S956,810 966,830 S986,850 996,830" stroke="#1f3a8a" stroke-width="3" fill="none"/>
<path d="M876,830 C886,850 896,850 906,830 S926,810 936,830 S956,850 966,830 S986,810 996,830" stroke="#2a8ad0" stroke-width="3" fill="none"/>
<text x="830" y="818" font-size="8" font-weight="bold" fill="#a0103a" text-anchor="end">DNA damage</text>
<text x="830" y="829" font-size="8" font-weight="bold" fill="#e0408a" text-anchor="end">DNA fragmentation</text>
<path d="M835,815 H866 M743,797 H292 V656" stroke="#c8203a" stroke-width="0.8" fill="none"/>
<line x1="292" y1="672" x2="292" y2="656" stroke="#c8203a" stroke-width="0.8" marker-end="url(#ar)"/>
<path d="M835,826 H866 M733,826 H282 V656" stroke="#e0408a" stroke-width="0.8" fill="none"/>
<line x1="282" y1="672" x2="282" y2="656" stroke="#d58bb0" stroke-width="0.8" marker-end="url(#ap)"/>
<line x1="866" y1="815" x2="872" y2="815" stroke="#c8203a" stroke-width="0.8"/>
<path d="M760,806 H302 V658" stroke="#c8203a" stroke-width="0.8" fill="none" marker-end="url(#ar)"/>
<path class="g" d="M940,840 V865 M878,865 H1030 M878,865 V878 M1030,865 V878" />
<line class="g" x1="878" y1="870" x2="878" y2="880" marker-end="url(#ag)"/><line class="g" x1="1030" y1="870" x2="1030" y2="880" marker-end="url(#ag)"/>
<rect x="830" y="885" width="97" height="23" fill="#e41b17"/><text class="w" x="878" y="894" font-size="6">CELL MIGRATION</text><text class="w" x="878" y="903" font-size="6">AND INVASION</text>
<rect x="952" y="885" width="97" height="23" fill="#e41b17"/><text class="w" x="1000" y="894" font-size="6">CELL GROWTH</text><text class="w" x="1000" y="903" font-size="6">AND PROLIFERATION</text>
<path d="M1054,880 V866 H1058" stroke="#e8502a" stroke-width="1.4" fill="none"/><line x1="1053" y1="880" x2="1053" y2="880"/><line x1="1040" y1="880" x2="1052" y2="880" stroke="#e8502a" stroke-width="2"/>
<path d="M793,940 V888 H822" stroke="#e8502a" stroke-width="1.4" fill="none"/><line x1="823" y1="882" x2="823" y2="894" stroke="#e8502a" stroke-width="2"/>
<circle cx="738" cy="870" r="11" fill="#e8601a"/><text class="w" x="738" y="872">p53</text>
<circle cx="738" cy="918" r="10" fill="#f2d020"/><text class="s" x="738" y="920" font-size="5.5">p21</text>
<line class="g" x1="738" y1="883" x2="738" y2="904" marker-end="url(#ag)"/>
<line class="rd" x1="688" y1="890" x2="722" y2="872" marker-end="url(#tb)"/>
<line class="rd" x1="688" y1="898" x2="721" y2="916" marker-end="url(#tb)"/>
<path class="g" d="M756,870 H766 V918 H752"/>
<line class="g" x1="766" y1="893" x2="864" y2="838" marker-end="url(#ag)"/>
</svg>
</body></html>
